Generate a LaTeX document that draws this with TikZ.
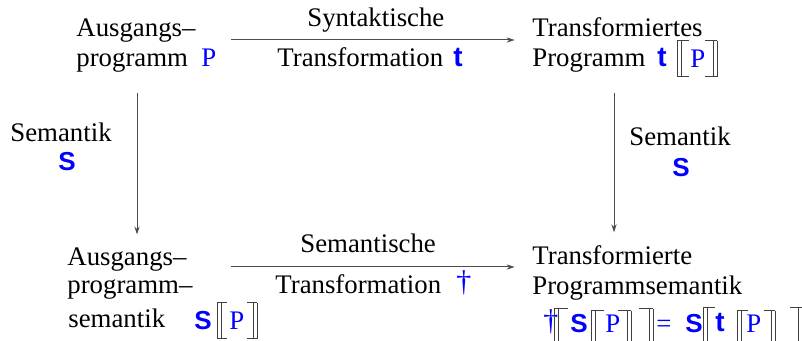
\documentclass[tikz,border=0pt]{standalone}
\usepackage{fontspec}
\setmainfont{Liberation Serif}
\newfontfamily\sansf{Liberation Sans}
\usetikzlibrary{arrows.meta,fit}
\newcommand{\semb}[5]{%
  \draw[brk] (#1,#3) -- (#1,#4) (#1+4,#3) -- (#1+4,#4)
             (#2,#3) -- (#2,#4) (#2-4,#3) -- (#2-4,#4)
             (#1,#3) -- (#1+#5,#3) (#1,#4) -- (#1+#5,#4)
             (#2,#3) -- (#2-#5,#3) (#2,#4) -- (#2-#5,#4);}
\begin{document}
\begin{tikzpicture}[x=0.5pt,y=-0.5pt,
  tx/.style={inner sep=0pt, anchor=base west, font=\fontsize{13.4}{16}\selectfont},
  bl/.style={tx, text=blue},
  sS/.style={inner sep=0pt, anchor=base west, text=blue, font=\sansf\bfseries\fontsize{13}{15}\selectfont},
  tB/.style={inner sep=0pt, anchor=base west, text=blue, font=\sansf\bfseries\fontsize{14}{16}\selectfont},
  dg/.style={inner sep=0pt, anchor=base west, text=blue, font=\fontsize{15}{17}\selectfont},
  blk/.style={inner sep=0pt, draw=none},
  arr/.style={draw=black!70, line width=0.5pt, -{Stealth[length=4pt,width=2.6pt]}},
  brk/.style={draw=black!75, line width=0.5pt}]
\useasboundingbox (0,0) rectangle (802,341);
\clip (0,0) rectangle (802,341);
% top left
\node[tx] (tl1) at (76,37) {Ausgangs–};
\node[tx] (tl2) at (76,67) {programm};
\node[bl] (tlP) at (201,67) {P};
\node[blk, fit=(tl1)(tl2)(tlP)] (TL) {};
% top middle
\node[tx] (st1) at (307,27) {Syntaktische};
\node[tx] (st2) at (277,67) {Transformation};
\node[tB] (stt) at (453,67) {t};
% top right
\node[tx] (tr1) at (532,37) {Transformiertes};
\node[tx] (tr2) at (532,67) {Programm};
\node[tB] (trt) at (657,67) {t};
\node[bl] (trP) at (690,68) {P};
\node[blk, fit=(tr1)(tr2)(trt)(trP)] (TR) {};
\semb{677}{717}{41}{77}{12}
% side labels
\node[tx] (sl1) at (10,142) {Semantik};
\node[sS] (slS) at (58,171) {S};
\node[tx] (sr1) at (629,146) {Semantik};
\node[sS] (srS) at (672,177) {S};
% bottom left
\node[tx] (bl1) at (67,266) {Ausgangs–};
\node[tx] (bl2) at (67,294) {programm–};
\node[tx] (bl3) at (68,328) {semantik};
\node[sS] (blS) at (194,329) {S};
\node[bl] (blP) at (229,329) {P};
\node[blk, fit=(bl1)(bl2)(bl3)] (BL) {};
\semb{217}{257}{303}{339}{10}
% bottom middle
\node[tx] (se1) at (300,253) {Semantische};
\node[tx] (se2) at (275,293) {Transformation};
\node[dg] (sed) at (456,292) {†};
% bottom right
\node[tx] (br1) at (532,265) {Transformierte};
\node[tx] (br2) at (532,295) {Programmsemantik};
\node[dg] (f1) at (543,330) {†};
\node[sS] (f2) at (570,333) {S};
\node[bl] (f3) at (605,333) {P};
\node[bl] (f4) at (656,333) {=};
\node[sS] (f5) at (685,333) {S};
\node[tB] (f6) at (715,332) {t};
\node[bl] (f7) at (746,333) {P};
\node[blk, fit=(br1)(br2)] (BR) {};
\semb{554}{653}{309}{360}{14}
\semb{591}{631}{311}{360}{13}
\semb{703}{802}{308}{360}{12}
\semb{737}{775}{311}{360}{11}
% connectors
\coordinate (r1) at (0,40);
\coordinate (r2) at (0,267);
\coordinate (c1) at (137,0);
\coordinate (c2) at (614,0);
\draw[arr, shorten <=7pt, shorten >=8.5pt] (TL.east |- r1) -- (TR.west |- r1);
\draw[arr, shorten <=19pt, shorten >=8.5pt] (BL.east |- r2) -- (BR.west |- r2);
\draw[arr, shorten <=9.5pt, shorten >=6.5pt] (TL.south -| c1) -- (BL.north -| c1);
\draw[arr, shorten <=9.5pt, shorten >=6.5pt] (TR.south -| c2) -- (BR.north -| c2);
\end{tikzpicture}
\end{document}
